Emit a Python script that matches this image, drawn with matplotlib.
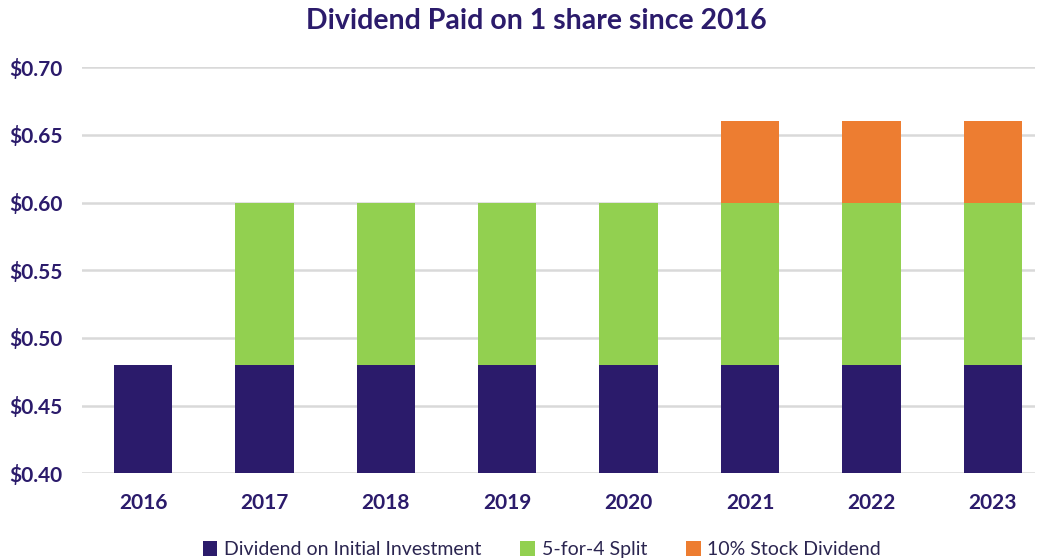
import matplotlib.pyplot as plt
from matplotlib.ticker import FuncFormatter

years = ["2016", "2017", "2018", "2019", "2020", "2021", "2022", "2023"]
initial = [0.48, 0.48, 0.48, 0.48, 0.48, 0.48, 0.48, 0.48]
split = [0.00, 0.12, 0.12, 0.12, 0.12, 0.12, 0.12, 0.12]
stock_div = [0.00, 0.00, 0.00, 0.00, 0.00, 0.06, 0.06, 0.06]

navy = "#2B1B6B"
green = "#92D050"
orange = "#ED7D31"

plt.rcParams["font.family"] = ["Lato", "DejaVu Sans"]

fig = plt.figure(figsize=(10.42, 5.6), dpi=100)
ax = fig.add_axes([0.079, 0.155, 0.9146, 0.725])

x = list(range(len(years)))
w = 0.48
ax.bar(x, initial, w, color=navy, label="Dividend on Initial Investment", zorder=3)
ax.bar(x, split, w, bottom=initial, color=green, label="5-for-4 Split", zorder=3)
bottom2 = [a + b for a, b in zip(initial, split)]
ax.bar(x, stock_div, w, bottom=bottom2, color=orange, label="10% Stock Dividend", zorder=3)

ax.set_ylim(0.40, 0.70)
ax.set_xlim(-0.5, 7.35)
ax.set_yticks([0.40, 0.45, 0.50, 0.55, 0.60, 0.65, 0.70])
ax.yaxis.set_major_formatter(FuncFormatter(lambda v, p: f"${v:.2f}"))
ax.set_xticks(x)
ax.set_xticklabels(years)

ax.grid(axis="y", color="#D9D9D9", linewidth=1.8, zorder=0)
for s in ax.spines.values():
    s.set_visible(False)
ax.tick_params(length=0, labelsize=15, labelcolor=navy)
ax.tick_params(axis="x", pad=14)
ax.tick_params(axis="y", pad=14)
for lbl in ax.get_xticklabels() + ax.get_yticklabels():
    lbl.set_fontweight("bold")

fig.suptitle("Dividend Paid on 1 share since 2016", fontsize=20.5, fontweight="bold",
             color=navy, x=0.515, y=0.985)

fig.legend(loc="lower center", ncol=3, frameon=False, fontsize=14,
           bbox_to_anchor=(0.52, -0.028), handlelength=0.75, handleheight=0.75,
           handletextpad=0.35, columnspacing=2.0, labelcolor="#2B2550")

fig.savefig("out.png", dpi=100)
